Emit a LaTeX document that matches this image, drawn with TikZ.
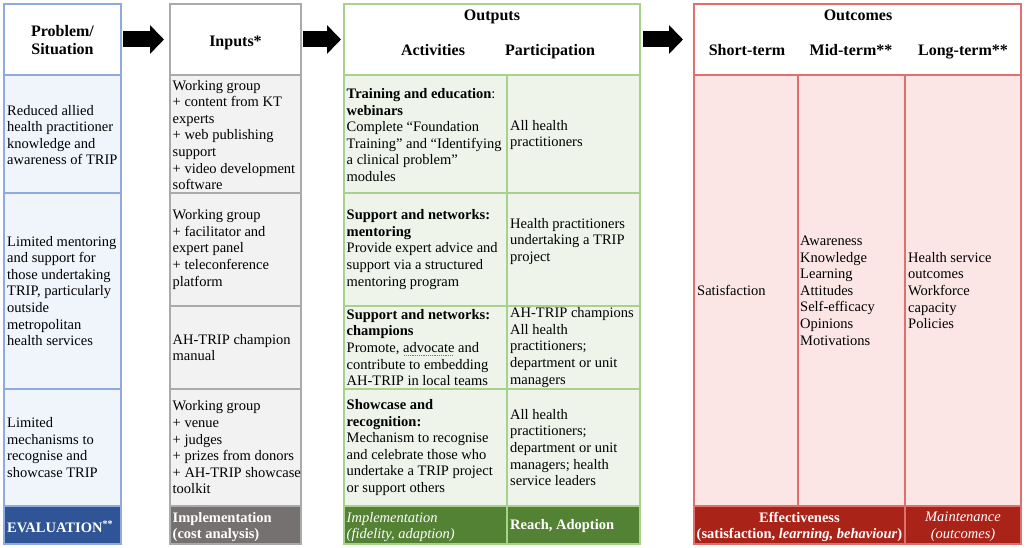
\documentclass[tikz,border=0pt]{standalone}
\usepackage{fontspec}
\setmainfont{Liberation Serif}
\usetikzlibrary{arrows.meta}
\definecolor{blueB}{RGB}{143,170,220}
\definecolor{blueF}{RGB}{240,244,251}
\definecolor{blueD}{RGB}{47,85,151}
\definecolor{grayB}{RGB}{170,170,170}
\definecolor{grayF}{RGB}{242,242,242}
\definecolor{grayD}{RGB}{118,113,113}
\definecolor{greenB}{RGB}{169,209,142}
\definecolor{greenF}{RGB}{238,244,234}
\definecolor{greenD}{RGB}{84,130,53}
\definecolor{redB}{RGB}{224,112,112}
\definecolor{redF}{RGB}{251,229,229}
\definecolor{redD}{RGB}{170,35,25}
\definecolor{spellblue}{RGB}{90,110,220}
\newcommand\bodyfont{\fontsize{14.5}{16.6}\selectfont}
\newcommand\headfont{\fontsize{16}{18}\selectfont\bfseries}
\newcommand\dotul[1]{\setbox0=\hbox{#1}\rlap{\raisebox{-3pt}{\hbox to \wd0{\color{spellblue}\leaders\hbox to 2.2pt{\hss\rule{1.1pt}{0.8pt}\hss}\hfill}}}#1}
\newcommand\mkcell[6]{\node[#2, minimum width={(#5)-(#3)}, minimum height={(#6)-(#4)}] (#1) at ({((#3)+(#5))/2},{((#4)+(#6))/2}) {};}
\begin{document}
\begin{tikzpicture}[x=1pt,y=-1pt,
  cellbase/.style={rectangle, inner sep=0pt, outer sep=0pt, line width=1.2pt},
  blueH/.style={cellbase, draw=blueB, fill=white},
  blueC/.style={cellbase, draw=blueB, fill=blueF},
  blueE/.style={cellbase, draw=blueB, fill=blueD},
  grayH/.style={cellbase, draw=grayB, fill=white},
  grayC/.style={cellbase, draw=grayB, fill=grayF},
  grayE/.style={cellbase, draw=grayB, fill=grayD},
  greenH/.style={cellbase, draw=greenB, fill=white},
  greenC/.style={cellbase, draw=greenB, fill=greenF},
  greenE/.style={cellbase, draw=greenB, fill=greenD},
  redH/.style={cellbase, draw=redB, fill=white},
  redC/.style={cellbase, draw=redB, fill=redF},
  redE/.style={cellbase, draw=redB, fill=redD},
  txt/.style={inner sep=0pt, align=left, font=\bodyfont, anchor=west},
  wtxt/.style={txt, text=white},
  ctxt/.style={inner sep=0pt, align=center, font=\bodyfont, text=white},
  htxt/.style={inner sep=0pt, align=center, font=\headfont, anchor=base},
  bigarrow/.style={line width=16pt, -{Triangle[length=14pt,width=28pt]}}
]
\useasboundingbox (0,0) rectangle (1026,548);

% Problem / Situation column
\mkcell{ph}{blueH}{4}{4}{121}{75}
\mkcell{p1}{blueC}{4}{75}{121}{193}
\mkcell{p2}{blueC}{4}{193}{121}{389}
\mkcell{p3}{blueC}{4}{389}{121}{506}
\mkcell{pe}{blueE}{4}{506}{121}{544}

% Inputs column
\mkcell{ih}{grayH}{170}{4}{301}{75}
\mkcell{i1}{grayC}{170}{75}{301}{193}
\mkcell{i2}{grayC}{170}{193}{301}{306}
\mkcell{i3}{grayC}{170}{306}{301}{389}
\mkcell{i4}{grayC}{170}{389}{301}{506}
\mkcell{ie}{grayE}{170}{506}{301}{544}

% Outputs column
\mkcell{oh}{greenH}{344}{4}{640}{75}
\mkcell{a1}{greenC}{344}{75}{507}{193}
\mkcell{a2}{greenC}{344}{193}{507}{306}
\mkcell{a3}{greenC}{344}{306}{507}{389}
\mkcell{a4}{greenC}{344}{389}{507}{506}
\mkcell{ae}{greenE}{344}{506}{507}{544}
\mkcell{q1}{greenC}{507}{75}{640}{193}
\mkcell{q2}{greenC}{507}{193}{640}{306}
\mkcell{q3}{greenC}{507}{306}{640}{389}
\mkcell{q4}{greenC}{507}{389}{640}{506}
\mkcell{qe}{greenE}{507}{506}{640}{544}

% Outcomes column
\mkcell{uh}{redH}{694}{4}{1021}{75}
\mkcell{us}{redC}{694}{75}{798}{506}
\mkcell{um}{redC}{798}{75}{905}{506}
\mkcell{ul}{redC}{905}{75}{1021}{506}
\mkcell{ue}{redE}{694}{506}{905}{544}
\mkcell{uma}{redE}{905}{506}{1021}{544}

% Header texts
\node[htxt, anchor=center] (tph) at (62.5,40.5) {Problem/\\Situation};
\node[htxt] (tih) at (235.5,46.5) {Inputs*};
\node[htxt] (toh) at (492,20.5) {Outputs};
\node[htxt] (tact) at (433,55.5) {Activities};
\node[htxt] (tpar) at (550,55.5) {Participation};
\node[htxt] (tuh) at (858,20.5) {Outcomes};
\node[htxt] (tus) at (747,55.5) {Short-term};
\node[htxt] (tum) at (851,55.5) {Mid-term**};
\node[htxt] (tul) at (963,55.5) {Long-term**};

% Arrows between columns
\draw[bigarrow] ([xshift=2pt]ph.east) -- ([xshift=-6pt]ih.west);
\draw[bigarrow] ([xshift=2pt]ih.east) -- ([xshift=-3pt]oh.west);
\draw[bigarrow] ([xshift=3pt]oh.east) -- ([xshift=-11pt]uh.west);

% Problem texts
\node[txt] (tp1) at ([xshift=3pt,yshift=-1pt]p1.west) {Reduced allied\\health practitioner\\knowledge and\\awareness of TRIP};
\node[txt] (tp2) at ([xshift=3pt]p2.west) {Limited mentoring\\and support for\\those undertaking\\TRIP, particularly\\outside\\metropolitan\\health services};
\node[txt] (tp3) at ([xshift=3pt]p3.west) {Limited\\mechanisms to\\recognise and\\showcase TRIP};
\node[wtxt, font=\bodyfont\bfseries] (tpe) at ([xshift=3pt,yshift=-1.5pt]pe.west) {EVALUATION\textsuperscript{**}};

% Inputs texts
\node[txt] (ti1) at ([xshift=2.5pt,yshift=-1pt]i1.west) {Working group\\+ content from KT\\experts\\+ web publishing\\support\\+ video development\\software};
\node[txt] (ti2) at ([xshift=2.5pt]i2.west) {Working group\\+ facilitator and\\expert panel\\+ teleconference\\platform};
\node[txt] (ti3) at ([xshift=2.5pt]i3.west) {AH-TRIP champion\\manual};
\node[txt] (ti4) at ([xshift=2.5pt]i4.west) {Working group\\+ venue\\+ judges\\+ prizes from donors\\+ AH-TRIP showcase\\toolkit};
\node[wtxt, font=\bodyfont\bfseries] (tie) at ([xshift=2.5pt,yshift=-2pt]ie.west) {Implementation\\(cost analysis)};

% Outputs texts
\node[txt] (ta1) at ([xshift=2.5pt,yshift=-1pt]a1.west) {\textbf{Training and education}:\\\textbf{webinars}\\Complete “Foundation\\Training” and “Identifying\\a clinical problem”\\modules};
\node[txt] (tq1) at ([xshift=3pt,yshift=-1pt]q1.west) {All health\\practitioners};
\node[txt] (ta2) at ([xshift=2.5pt]a2.west) {\textbf{Support and networks:}\\\textbf{mentoring}\\Provide expert advice and\\support via a structured\\mentoring program};
\node[txt] (tq2) at ([xshift=3pt,yshift=8pt]q2.west) {Health practitioners\\undertaking a TRIP\\project};
\node[txt] (ta3) at ([xshift=2.5pt]a3.west) {\textbf{Support and networks:}\\\textbf{champions}\\Promote, \dotul{advocate} and\\contribute to embedding\\AH-TRIP in local teams};
\node[txt] (tq3) at ([xshift=3pt]q3.west) {AH-TRIP champions\\All health\\practitioners;\\department or unit\\managers};
\node[txt] (ta4) at ([xshift=2.5pt]a4.west) {\textbf{Showcase and}\\\textbf{recognition:}\\Mechanism to recognise\\and celebrate those who\\undertake a TRIP project\\or support others};
\node[txt] (tq4) at ([xshift=3pt]q4.west) {All health\\practitioners;\\department or unit\\managers; health\\service leaders};
\node[wtxt, font=\bodyfont\itshape] (tae) at ([xshift=2.5pt,yshift=-2pt]ae.west) {Implementation\\(fidelity, adaption)};
\node[wtxt, font=\bodyfont\bfseries] (tqe) at ([xshift=3pt,yshift=-1.5pt]qe.west) {Reach, Adoption};

% Outcomes texts
\node[txt] (tus1) at ([xshift=3pt]us.west) {Satisfaction};
\node[txt] (tum1) at ([xshift=2pt]um.west) {Awareness\\Knowledge\\Learning\\Attitudes\\Self-efficacy\\Opinions\\Motivations};
\node[txt] (tul1) at ([xshift=3pt]ul.west) {Health service\\outcomes\\Workforce\\capacity\\Policies};
\node[ctxt, font=\bodyfont\bfseries] (tue) at ([yshift=-2pt]ue.center) {Effectiveness\\(satisfaction, \textit{learning, behaviour})};
\node[ctxt, font=\bodyfont\itshape] (tuma) at ([yshift=-2pt]uma.center) {Maintenance\\(outcomes)};
\end{tikzpicture}
\end{document}
